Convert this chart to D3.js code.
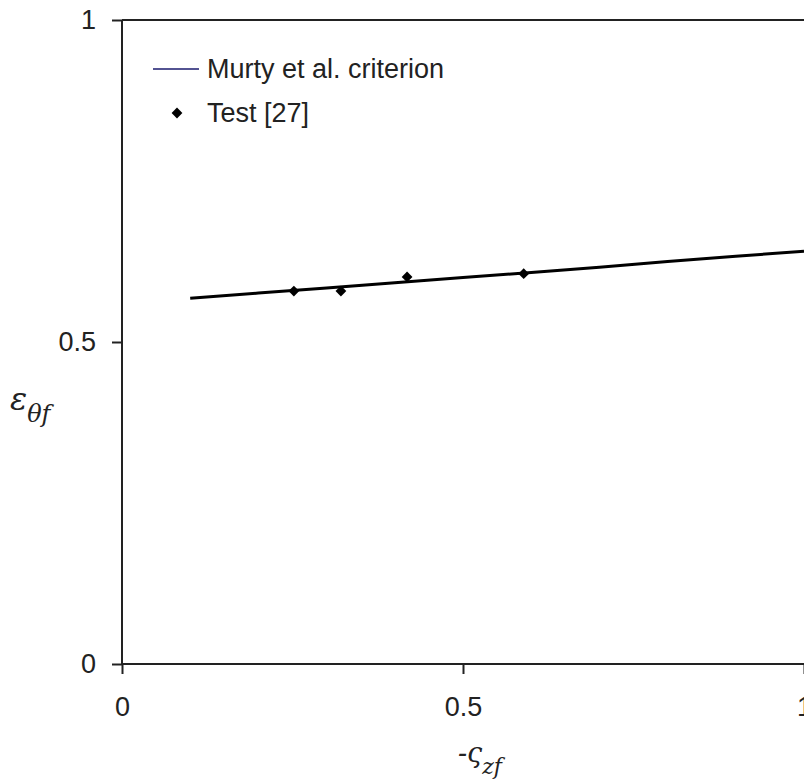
<!DOCTYPE html>
<html>
<head>
<meta charset="utf-8">
<script src="https://cdn.jsdelivr.net/npm/d3@7"></script>
<style>
  body { margin: 0; background: #fff; }
  text { font-family: "Liberation Sans", Arial, sans-serif; fill: #222; }
</style>
</head>
<body>
<div id="chart"></div>
<script>
// criterion curve
const curveX = [0.1, 0.2, 0.3, 0.4, 0.5, 0.6, 0.7, 0.8, 0.9, 1.0]
const curveY = [0.568, 0.576, 0.584, 0.592, 0.600, 0.608, 0.616, 0.625, 0.633, 0.641]

// test points
const testX = [0.252, 0.321, 0.418, 0.589]
const testY = [0.579, 0.579, 0.601, 0.606]

const xTicks = [0, 0.5, 1]
const yTicks = [0, 0.5, 1]
const xTickLabels = ["0", "0.5", "1"]
const yTickLabels = ["0", "0.5", "1"]

const legendLabels = ["Murty et al. criterion", "Test [27]"]

const dimensions = {
    width: 804,
    height: 780,
    margin: { top: 20, right: 0, bottom: 116, left: 122 },
}
dimensions.boundedWidth = dimensions.width - dimensions.margin.left - dimensions.margin.right
dimensions.boundedHeight = dimensions.height - dimensions.margin.top - dimensions.margin.bottom

const wrapper = d3.select("#chart").append("svg")
    .attr("width", dimensions.width)
    .attr("height", dimensions.height)

const bounds = wrapper.append("g")
    .attr("transform", `translate(${dimensions.margin.left},${dimensions.margin.top})`)

const xScale = d3.scaleLinear()
    .domain([0, 1])
    .range([0, dimensions.boundedWidth])

const yScale = d3.scaleLinear()
    .domain([0, 1])
    .range([dimensions.boundedHeight, 0])

// frame: top line
bounds.append("line")
    .attr("x1", 0).attr("x2", dimensions.boundedWidth)
    .attr("y1", yScale(1)).attr("y2", yScale(1))
    .attr("stroke", "#222").attr("stroke-width", 2)

// axes
const yAxis = bounds.append("g")
    .call(d3.axisLeft(yScale).tickValues(yTicks).tickSize(10).tickPadding(16)
        .tickFormat((d, i) => yTickLabels[i]))
const xAxis = bounds.append("g")
    .attr("transform", `translate(0,${dimensions.boundedHeight})`)
    .call(d3.axisBottom(xScale).tickValues(xTicks).tickSize(10).tickPadding(23)
        .tickFormat((d, i) => xTickLabels[i]))

;[xAxis, yAxis].forEach(ax => {
    ax.select(".domain").attr("stroke", "#222").attr("stroke-width", 2)
    ax.selectAll(".tick line").attr("stroke", "#222").attr("stroke-width", 2)
    ax.selectAll(".tick text")
        .style("font-size", "27px")
        .style("font-family", "'Liberation Sans', Arial, sans-serif")
        .attr("fill", "#222")
})
xAxis.select(".domain").attr("d", `M0,0H${dimensions.boundedWidth}`)
yAxis.select(".domain").attr("d", `M0,${dimensions.boundedHeight}V0`)

// criterion line
const curve = curveX.map((x, i) => ({ x, y: curveY[i] }))
const lineGenerator = d3.line()
    .x(d => xScale(d.x))
    .y(d => yScale(d.y))

bounds.append("path")
    .attr("d", lineGenerator(curve))
    .attr("fill", "none")
    .attr("stroke", "#000")
    .attr("stroke-width", 3)

// test points
const diamond = d3.symbol().type(d3.symbolSquare).size(58)
bounds.selectAll(".pt")
    .data(testX.map((x, i) => ({ x, y: testY[i] })))
    .join("path")
    .attr("class", "pt")
    .attr("d", diamond)
    .attr("transform", d => `translate(${xScale(d.x)},${yScale(d.y)}) rotate(45)`)
    .attr("fill", "#000")

// legend
const legend = wrapper.append("g")
legend.append("line")
    .attr("x1", 153).attr("x2", 199)
    .attr("y1", 69).attr("y2", 69)
    .attr("stroke", "#1a1a6e").attr("stroke-width", 1.5)
legend.append("path")
    .attr("d", diamond)
    .attr("transform", "translate(177,113) rotate(45)")
    .attr("fill", "#000")
legend.selectAll(".lg")
    .data(legendLabels)
    .join("text")
    .attr("class", "lg")
    .attr("x", 207)
    .attr("y", (d, i) => 78 + i * 44)
    .style("font-size", "27px")
    .text(d => d)

// axis titles
const xTitle = wrapper.append("text")
    .attr("x", 458).attr("y", 762)
    .style("font-size", "27px").style("font-style", "italic")
    .style("font-family", "'DejaVu Serif', serif")
xTitle.append("tspan").text("-ς")
xTitle.append("tspan").attr("dy", 12).style("font-size", "22px").text("zf")

const yTitle = wrapper.append("text")
    .attr("x", 10).attr("y", 410)
    .style("font-size", "32px").style("font-style", "italic")
    .style("font-family", "'DejaVu Serif', serif")
yTitle.append("tspan").text("ε")
yTitle.append("tspan").attr("dy", 12).style("font-size", "24px").text("θf")
</script>
</body>
</html>
